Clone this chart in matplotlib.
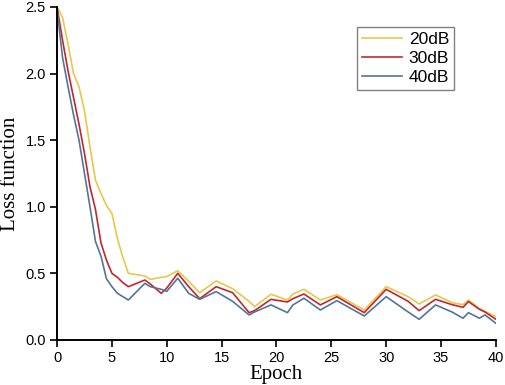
import numpy as np
from matplotlib import pyplot as plt

plt.rcParams['font.family'] = ['Liberation Sans', 'DejaVu Sans']

# epochs at which the curves have a vertex
epoch = [0, 0.5, 1, 1.5, 2, 2.5, 3, 3.5, 4, 4.5, 5, 5.5, 6, 6.5, 8, 8.5, 9.5, 10,
         11, 12, 13, 14.5, 16, 17.5, 18, 19.5, 21, 21.5, 22.5, 24, 25.5, 28, 30,
         32, 33, 34.5, 36, 37, 37.5, 38.5, 39, 40]

loss_20db = [2.50, 2.42, 2.22, 2.00, 1.90, 1.72, 1.45, 1.20, 1.10, 1.01, 0.95, 0.76,
             0.62, 0.50, 0.48, 0.455, 0.47, 0.476, 0.52, 0.44, 0.355, 0.443, 0.385,
             0.29, 0.25, 0.343, 0.30, 0.345, 0.38, 0.30, 0.34, 0.225, 0.40, 0.325,
             0.27, 0.338, 0.28, 0.265, 0.30, 0.235, 0.215, 0.175]
loss_30db = [2.50, 2.25, 2.02, 1.82, 1.62, 1.40, 1.15, 0.98, 0.73, 0.60, 0.50, 0.47,
             0.43, 0.40, 0.45, 0.42, 0.35, 0.39, 0.50, 0.40, 0.31, 0.40, 0.355,
             0.205, 0.22, 0.305, 0.285, 0.31, 0.345, 0.263, 0.325, 0.205, 0.38,
             0.29, 0.22, 0.305, 0.265, 0.245, 0.288, 0.23, 0.21, 0.155]
loss_40db = [2.48, 2.12, 1.90, 1.69, 1.50, 1.25, 1.00, 0.74, 0.63, 0.46, 0.40, 0.35,
             0.325, 0.30, 0.425, 0.40, 0.38, 0.365, 0.463, 0.35, 0.305, 0.363, 0.29,
             0.188, 0.21, 0.263, 0.205, 0.263, 0.313, 0.225, 0.295, 0.18, 0.325,
             0.21, 0.155, 0.263, 0.21, 0.163, 0.205, 0.163, 0.188, 0.125]

labels = ['20dB', '30dB', '40dB']
colors = ['#E6C84B', '#C1272D', '#51769A']

fig = plt.figure(figsize=(5.05, 3.85), dpi=100)
ax = fig.add_axes([0.113, 0.117, 0.869, 0.865])

for y, lab, c in zip([loss_20db, loss_30db, loss_40db], labels, colors):
    ax.plot(epoch, y, color=c, linewidth=1.2, label=lab)

ax.set_xlim(0, 40)
ax.set_ylim(0, 2.5)
ax.set_xticks(np.arange(0, 41, 5))
ax.set_yticks(np.arange(0, 2.51, 0.5))
ax.yaxis.set_major_formatter(plt.FormatStrFormatter('%.1f'))

for side in ['top', 'right']:
    ax.spines[side].set_visible(False)
for side in ['left', 'bottom']:
    ax.spines[side].set_linewidth(1.4)
ax.tick_params(direction='out', length=5, width=1.2, labelsize=10.5, pad=3)

ax.set_xlabel('Epoch', family='Liberation Serif', fontsize=15, labelpad=0)
ax.set_ylabel('Loss function', family='Liberation Serif', fontsize=15, labelpad=4)

leg = ax.legend(loc='upper right', bbox_to_anchor=(0.905, 0.94), fontsize=12.5,
                fancybox=False, framealpha=1, edgecolor='#808080',
                handlelength=2.3, handletextpad=0.4, labelspacing=0.22,
                borderpad=0.3, borderaxespad=0)
leg.get_frame().set_linewidth(1.0)

plt.savefig('out.png', dpi=100)
